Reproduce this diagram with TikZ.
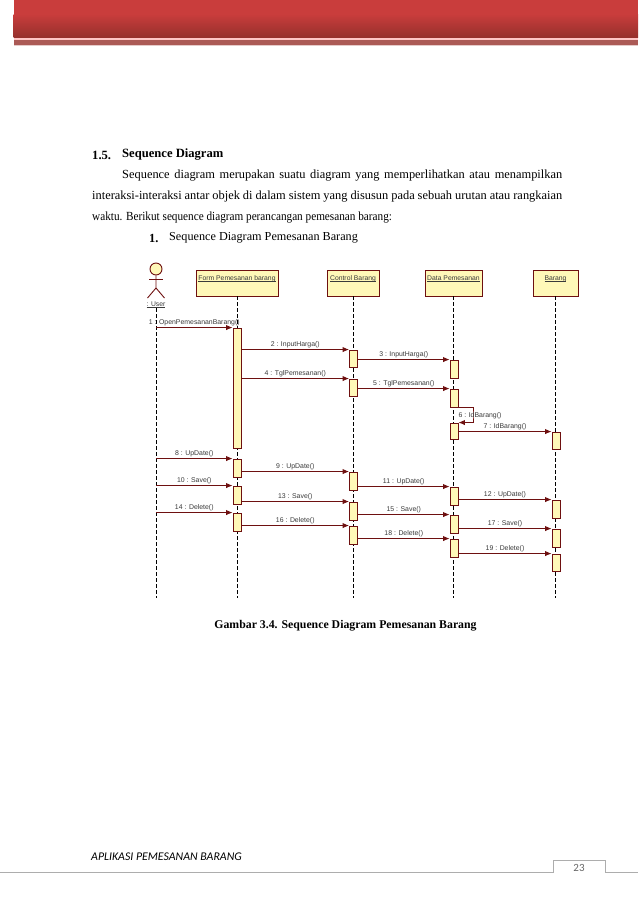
\documentclass[tikz,border=0pt]{standalone}
\usepackage{fontspec}
\setmainfont{Liberation Serif}
\setsansfont{Liberation Sans}
\newfontfamily\footfont{Carlito}
\usetikzlibrary{arrows.meta,positioning}
\definecolor{umlred}{HTML}{6E1010}
\definecolor{umlfill}{HTML}{FFF8B8}
\definecolor{umltext}{HTML}{3A3A3A}
\definecolor{bannertop}{HTML}{C93D3C}
\definecolor{bannerlow}{HTML}{96302C}
\newcommand{\headname}[1]{\underline{\smash{#1}}}

\begin{document}
\begin{tikzpicture}[
  x=1pt,y=-1pt,
  banner/.style={draw=none,top color=bannertop,bottom color=bannerlow},
  body/.style={anchor=west,inner sep=0pt,font=\fontsize{12.4}{15}\selectfont},
  lifehead/.style={draw=umlred,line width=0.9pt,fill=umlfill,inner xsep=0pt,inner ysep=3pt,text height=7pt,text depth=13pt,align=center,font=\sffamily\fontsize{6.8}{8}\selectfont,text=umltext},
  lifeline/.style={draw=black,line width=0.8pt,dash pattern=on 3.5pt off 2.5pt},
  activation/.style={draw=umlred,line width=0.9pt,fill=umlfill,minimum width=8pt,inner sep=0pt},
  message/.style={draw=umlred,line width=0.9pt,-{Latex[length=6.5pt,width=5.5pt]}},
  msglabel/.style={midway,above,inner sep=0pt,yshift=1pt,font=\sffamily\fontsize{6.9}{8}\selectfont,text=umltext},
  footline/.style={draw=black!32,line width=0.8pt}
]
\useasboundingbox (0,0) rectangle (638,903);

\fill[bannertop] (13.5,0) rectangle (638,14);
\shade[banner] (13.5,14) rectangle (638,37.5);
\fill[red!10!pink!70!white] (13.5,37.5) rectangle (638,39.5);
\fill[bannerlow!80!white] (13.5,39.5) rectangle (638,45);
\fill[bannerlow!25!white] (13.5,45) rectangle (638,46);

\node[body,font=\fontsize{12.6}{15}\selectfont\bfseries] (sec no) at (92,155) {1.5.};
\node[body,font=\fontsize{12.6}{15}\selectfont\bfseries] (sec title) at (122,155) {Sequence Diagram};
\node[body] (par a) at (122,176) {\hbox to 440pt{Sequence\hfil diagram\hfil merupakan\hfil suatu\hfil diagram\hfil yang\hfil memperlihatkan\hfil atau\hfil menampilkan}};
\node[body] (par b) at (92,197) {\hbox to 470pt{interaksi-interaksi\hfil antar\hfil objek\hfil di\hfil dalam\hfil sistem\hfil yang\hfil disusun\hfil pada\hfil sebuah\hfil urutan\hfil atau\hfil rangkaian}};
\node[body] (par c) at (92,218) {\scalebox{0.905}[1]{waktu. Berikut sequence diagram perancangan pemesanan barang:}};
\node[body,font=\fontsize{12.4}{15}\selectfont\bfseries] (item no) at (149,238) {1.};
\node[body,font=\fontsize{12.2}{15}\selectfont] (item title) at (169,238) {Sequence Diagram Pemesanan Barang};

\node[draw=umlred,line width=0.9pt,fill=umlfill,circle,minimum size=12pt,inner sep=0pt] (head) at (156,269) {};
\draw[draw=umlred,line width=0.9pt] (head.south) -- (156,288) -- (147.5,298);
\draw[draw=umlred,line width=0.9pt] (156,288) -- (164.5,298);
\draw[draw=umlred,line width=0.9pt] (149,279) -- (163,279);
\node[inner sep=0pt,font=\sffamily\fontsize{6.8}{8}\selectfont,text=umltext] (user) at (156,307) {\headname{: User}};

\node[lifehead,minimum width=82pt] (form) at (237,283) {\headname{Form Pemesanan barang}};
\node[lifehead,minimum width=52pt] (control) at (353,283) {\headname{Control Barang}};
\node[lifehead,minimum width=57pt] (data) at (453.5,283) {\headname{Data Pemesanan}};
\node[lifehead,minimum width=45pt] (barang) at (555.5,283) {\headname{Barang}};

\coordinate (bottom) at (0,598);
\draw[lifeline] (user) -- (user |- bottom);
\draw[lifeline] (form) -- (form |- bottom);
\draw[lifeline] (control) -- (control |- bottom);
\draw[lifeline] (data) -- (data |- bottom);
\draw[lifeline] (barang) -- (barang |- bottom);

\node[activation,minimum height=120pt] (f1) at (237,388) {};
\node[activation,minimum height=18pt] (f2) at (237,468) {};
\node[activation,minimum height=18pt] (f3) at (237,495) {};
\node[activation,minimum height=18pt] (f4) at (237,522) {};
\node[activation,minimum height=17pt] (c1) at (353.5,358.5) {};
\node[activation,minimum height=17pt] (c2) at (353.5,387.5) {};
\node[activation,minimum height=18pt] (c3) at (353.5,481) {};
\node[activation,minimum height=18pt] (c4) at (353.5,511) {};
\node[activation,minimum height=18pt] (c5) at (353.5,535) {};
\node[activation,minimum height=18pt] (d1) at (454,369) {};
\node[activation,minimum height=18pt] (d2) at (454,398) {};
\node[activation,minimum height=16pt] (d3) at (454,431) {};
\node[activation,minimum height=18pt] (d4) at (454,496) {};
\node[activation,minimum height=18pt] (d5) at (454,524) {};
\node[activation,minimum height=18pt] (d6) at (454,548) {};
\node[activation,minimum height=17pt] (b1) at (556,440.5) {};
\node[activation,minimum height=18pt] (b2) at (556,509) {};
\node[activation,minimum height=18pt] (b3) at (556,538) {};
\node[activation,minimum height=17pt] (b4) at (556,562.5) {};

\draw[message] (user |- f1.north west) -- node[msglabel] (m1) {1 : OpenPemesananBarang()} (f1.north west);
\draw[message] (c1.north west -| f1.east) -- node[msglabel] (m2) {2 : InputHarga()} (c1.north west);
\draw[message] (d1.north west -| c1.east) -- node[msglabel] (m3) {3 : InputHarga()} (d1.north west);
\draw[message] (c2.north west -| f1.east) -- node[msglabel] (m4) {4 : TglPemesanan()} (c2.north west);
\draw[message] (d2.north west -| c2.east) -- node[msglabel] (m5) {5 : TglPemesanan()} (d2.north west);
\coordinate (loop) at (473,415);
\draw[message] (d2.south east) -| (loop) |- (d3.north east);
\node[inner sep=0pt,font=\sffamily\fontsize{6.9}{8}\selectfont,text=umltext] (m6) at (480,416) {6 : IdBarang()};
\draw[message] (b1.north west -| d3.east) -- node[msglabel] (m7) {7 : IdBarang()} (b1.north west);
\draw[message] (user |- f2.north west) -- node[msglabel] (m8) {8 : UpDate()} (f2.north west);
\draw[message] (c3.north west -| f2.east) -- node[msglabel] (m9) {9 : UpDate()} (c3.north west);
\draw[message] (user |- f3.north west) -- node[msglabel] (m10) {10 : Save()} (f3.north west);
\draw[message] (d4.north west -| c3.east) -- node[msglabel] (m11) {11 : UpDate()} (d4.north west);
\draw[message] (b2.north west -| d4.east) -- node[msglabel] (m12) {12 : UpDate()} (b2.north west);
\draw[message] (c4.north west -| f3.east) -- node[msglabel] (m13) {13 : Save()} (c4.north west);
\draw[message] (user |- f4.north west) -- node[msglabel] (m14) {14 : Delete()} (f4.north west);
\draw[message] (d5.north west -| c4.east) -- node[msglabel] (m15) {15 : Save()} (d5.north west);
\draw[message] (c5.north west -| f4.east) -- node[msglabel] (m16) {16 : Delete()} (c5.north west);
\draw[message] (b3.north west -| d5.east) -- node[msglabel] (m17) {17 : Save()} (b3.north west);
\draw[message] (d6.north west -| c5.east) -- node[msglabel] (m18) {18 : Delete()} (d6.north west);
\draw[message] (b4.north west -| d6.east) -- node[msglabel] (m19) {19 : Delete()} (b4.north west);

\node[inner sep=0pt,font=\fontsize{11.8}{15}\selectfont\bfseries] (caption) at (345.5,626) {Gambar 3.4. Sequence Diagram Pemesanan Barang};

\node[body,font=\footfont\itshape\fontsize{11.8}{15}\selectfont] (foot text) at (91,857) {APLIKASI PEMESANAN BARANG};
\node[inner sep=0pt,text=black!60,font=\footfont\fontsize{11}{13}\selectfont] (page no) at (579,868) {23};
\draw[footline] (0,872) -- (553,872) -- (553,860) -- (605,860) -- (605,872) -- (638,872);
\end{tikzpicture}
\end{document}
